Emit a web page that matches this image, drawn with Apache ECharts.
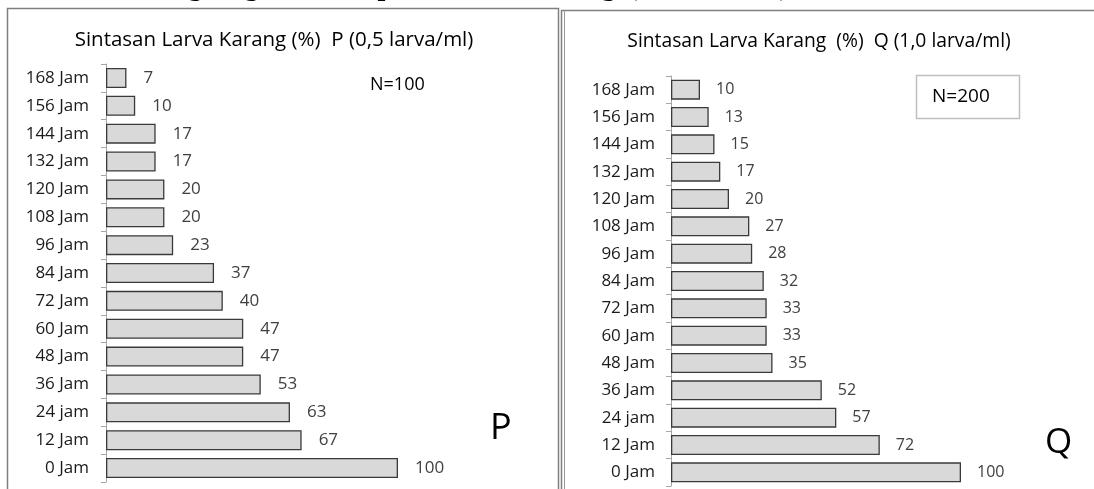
<!DOCTYPE html>
<html>
<head>
<meta charset="utf-8">
<script src="https://cdn.jsdelivr.net/npm/echarts@6/dist/echarts.min.js"></script>
<style>
html,body{margin:0;padding:0;background:#fff;}
#c{width:1094px;height:489px;}
</style>
</head>
<body>
<div id="c"></div>
<script>
// Categories listed from bottom (0 Jam) to top (168 Jam)
var categories = ['0 Jam','12 Jam','24 jam','36 Jam','48 Jam','60 Jam','72 Jam','84 Jam','96 Jam','108 Jam','120 Jam','132 Jam','144 Jam','156 Jam','168 Jam'];
var valuesP = [100, 67, 63, 53, 47, 47, 40, 37, 23, 20, 20, 17, 17, 10, 7];
var valuesQ = [100, 72, 57, 52, 35, 33, 33, 32, 28, 27, 20, 17, 15, 13, 10];
var titleP = 'Sintasan Larva Karang (%)  P (0,5 larva/ml)';
var titleQ = 'Sintasan Larva Karang  (%)  Q (1,0 larva/ml)';
var noteP = 'N=100';
var noteQ = 'N=200';
var headerWords = ['dan', 'kelangsungan', 'hidup', 'larva', 'karang', '(0 \u2013 168 Jam)'];

var FONT = '"Open Sans"';
var chart = echarts.init(document.getElementById('c'), null, {renderer:'canvas'});

function catAxis(gi, fs, margin){
  return {
    gridIndex: gi, type:'category', data: categories,
    axisLine:{show:true, lineStyle:{color:'#a6a6a6', width:1}},
    axisTick:{show:true, length:5, lineStyle:{color:'#a6a6a6'}},
    axisLabel:{color:'#1a1a1a', fontSize:fs, fontFamily:'Open Sans', margin:margin},
    splitLine:{show:false}
  };
}
function barSeries(xi, data, fs, dist){
  return {
    type:'bar', xAxisIndex:xi, yAxisIndex:xi, data:data, barWidth:20,
    itemStyle:{color:'#d9d9d9', borderColor:'#3a3a3a', borderWidth:1.3},
    label:{show:true, position:'right', distance:dist, color:'#404040', fontSize:fs, fontFamily:'Open Sans'},
    silent:true, animation:false
  };
}

var headerX = [52, 123, 323, 430, 530, 628];
var graphics = [
  {type:'rect', shape:{x:7.5, y:8.5, width:551, height:500}, style:{fill:'none', stroke:'#7f7f7f', lineWidth:1.5}, z:0},
  {type:'rect', shape:{x:561.5, y:10.5, width:600, height:500}, style:{fill:'none', stroke:'#7f7f7f', lineWidth:1.5}, z:0},
  {type:'line', shape:{x1:564.5, y1:10.5, x2:564.5, y2:489}, style:{stroke:'#9a9a9a', lineWidth:1}, z:0},
  {type:'text', x:274, y:40, style:{text:titleP, font:'20.5px ' + FONT, fill:'#000', textAlign:'center', textVerticalAlign:'middle'}},
  {type:'text', x:819, y:42, style:{text:titleQ, font:'19.3px ' + FONT, fill:'#000', textAlign:'center', textVerticalAlign:'middle'}},
  {type:'text', x:370, y:85, style:{text:noteP, font:'18px ' + FONT, fill:'#000', textAlign:'left', textVerticalAlign:'middle'}},
  {type:'rect', shape:{x:916.5, y:75.5, width:103, height:43}, style:{fill:'#fff', stroke:'#bfbfbf', lineWidth:1.5}},
  {type:'text', x:932, y:97, style:{text:noteQ, font:'19px ' + FONT, fill:'#000', textAlign:'left', textVerticalAlign:'middle'}},
  {type:'text', x:490, y:429, style:{text:'P', font:'36px ' + FONT, fill:'#000', textAlign:'left', textVerticalAlign:'middle'}},
  {type:'text', x:1045, y:443, style:{text:'Q', font:'35px ' + FONT, fill:'#000', textAlign:'left', textVerticalAlign:'middle'}}
];
headerWords.forEach(function(w, i){
  graphics.push({type:'text', x:headerX[i], y:-12, style:{text:w, font:'bold 28px "Liberation Serif"', fill:'#000', textAlign:'left', textVerticalAlign:'middle'}});
});

chart.setOption({
  backgroundColor:'#fff',
  animation:false,
  grid:[
    {left:106, top:64, width:438, height:418, containLabel:false},
    {left:671, top:76, width:406, height:410, containLabel:false}
  ],
  xAxis:[
    {gridIndex:0, type:'value', min:0, max:150, show:false},
    {gridIndex:1, type:'value', min:0, max:140, show:false}
  ],
  yAxis:[ catAxis(0, 17, 17), catAxis(1, 17, 16) ],
  series:[ barSeries(0, valuesP, 17, 17), barSeries(1, valuesQ, 16, 16) ],
  graphic: graphics
});
</script>
</body>
</html>
